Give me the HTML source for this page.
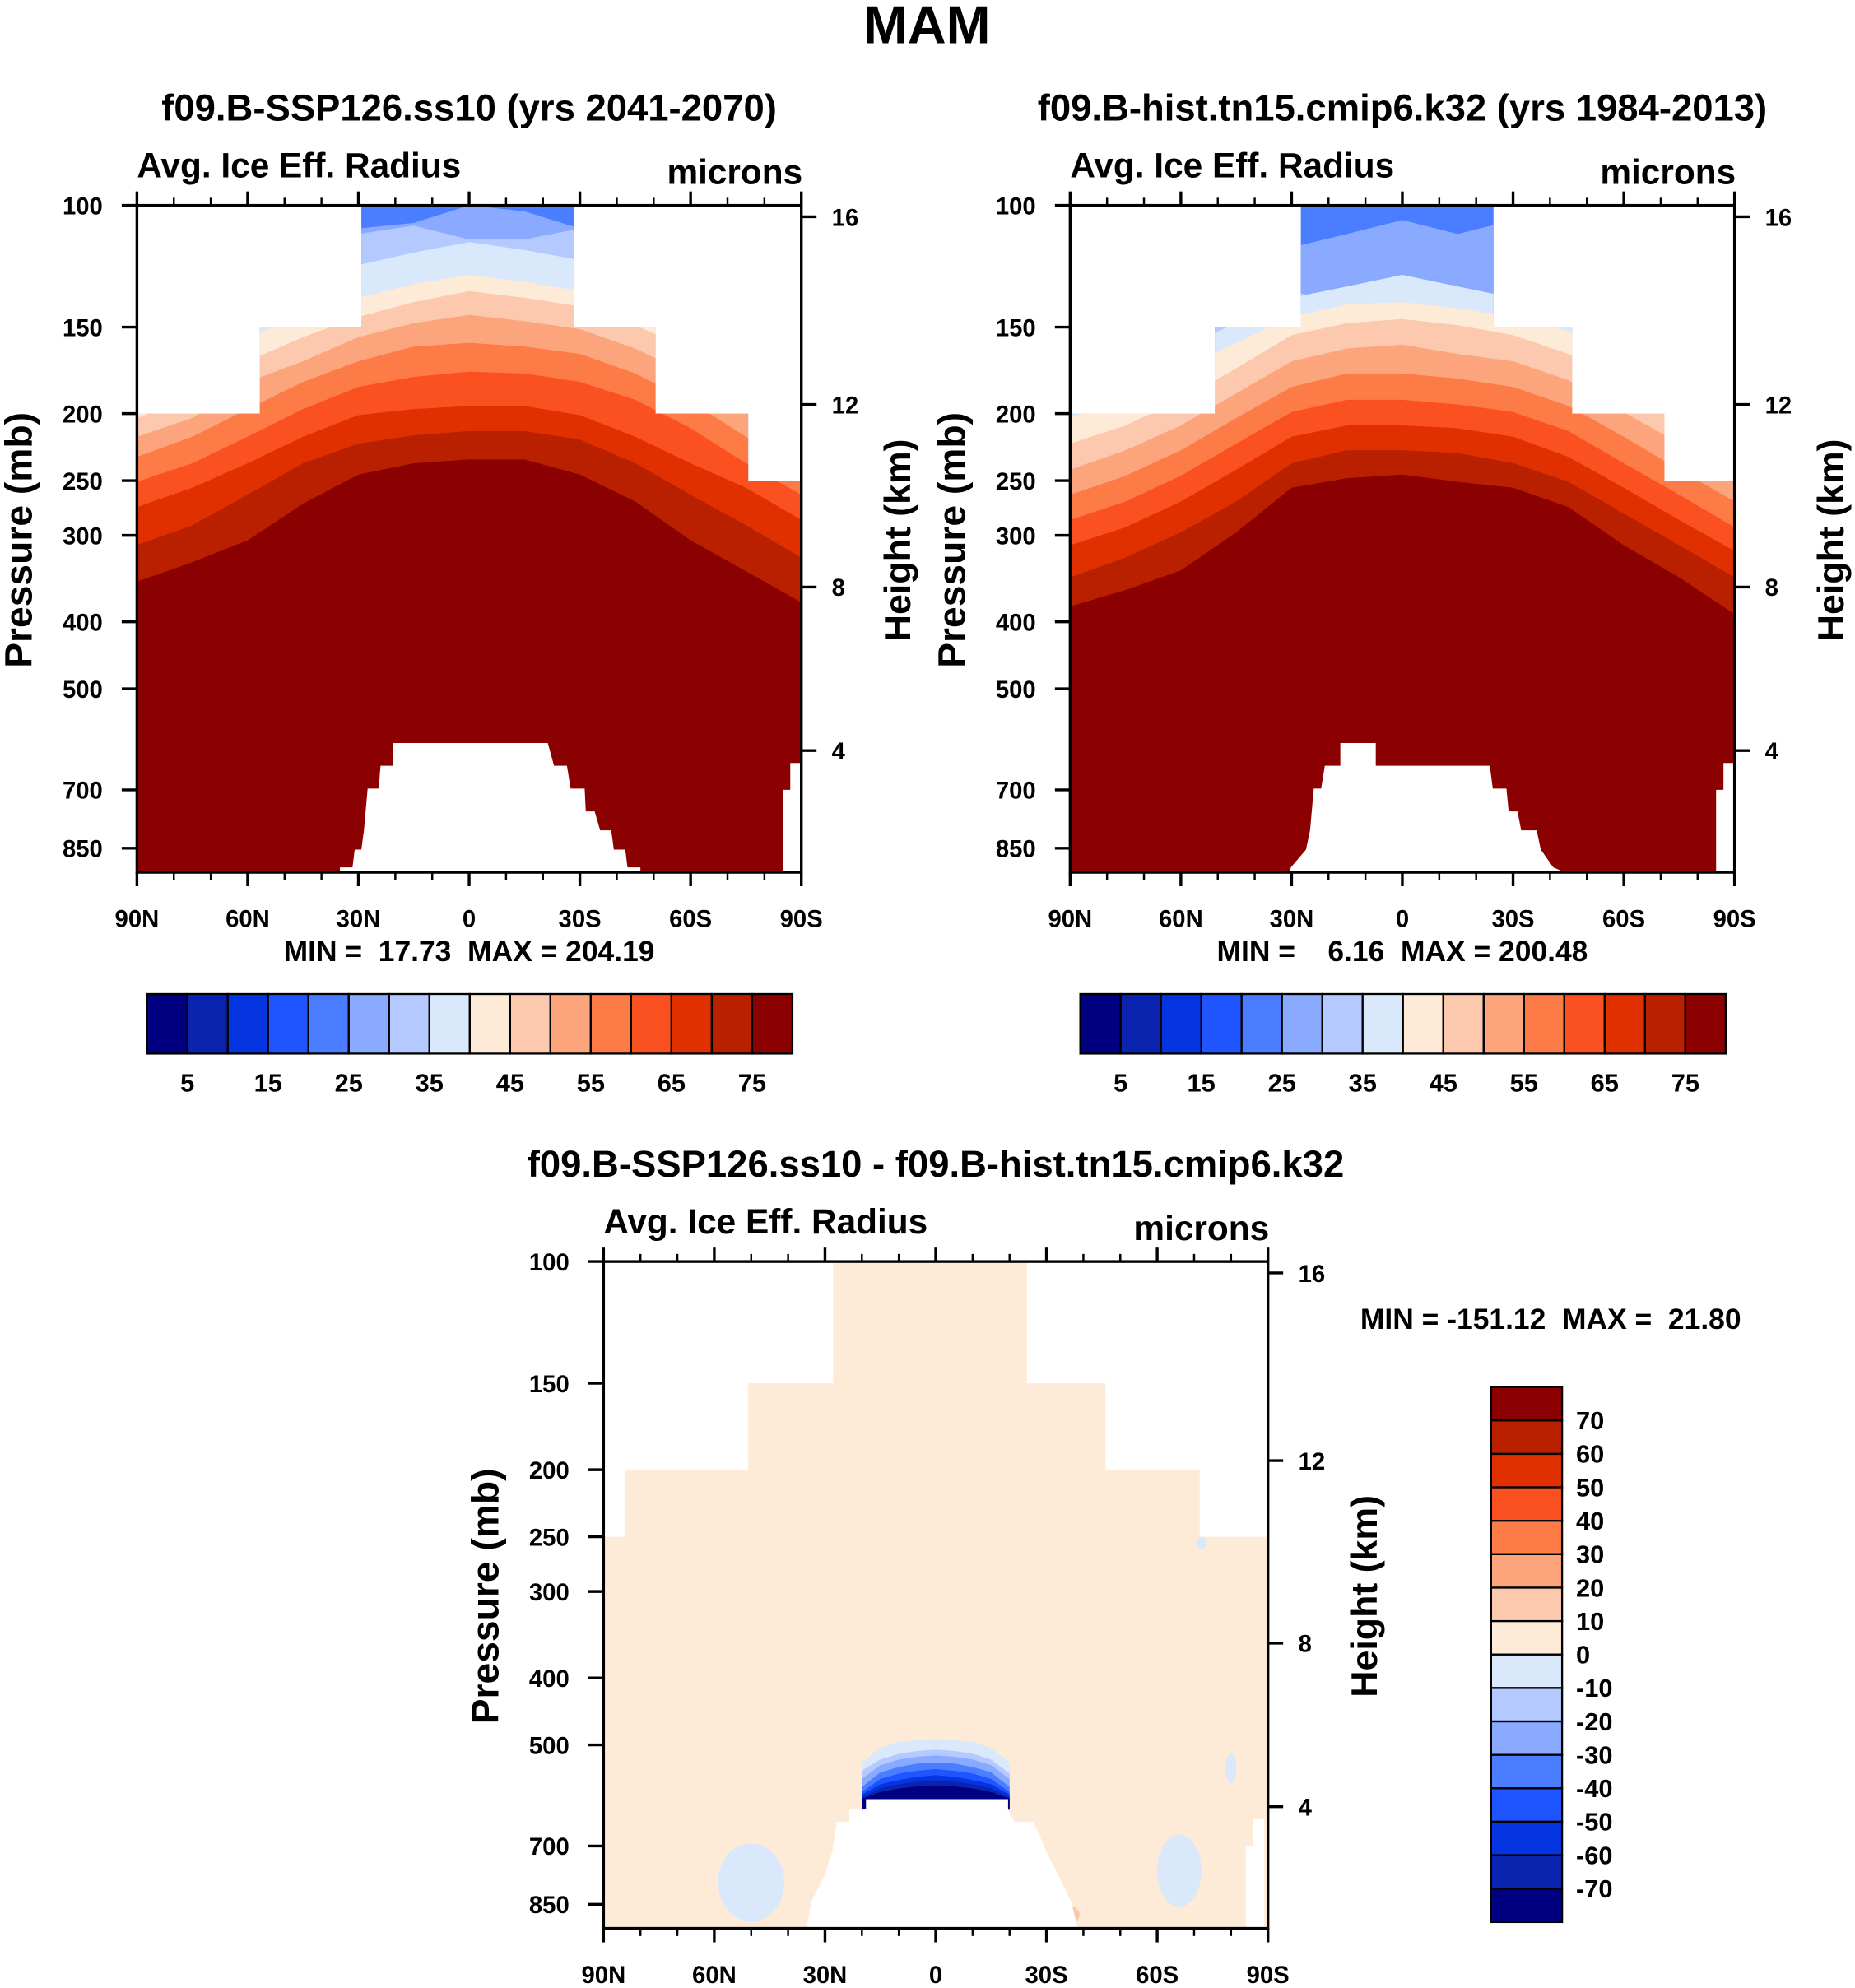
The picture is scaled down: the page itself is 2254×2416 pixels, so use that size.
<!DOCTYPE html>
<html><head><meta charset="utf-8"><title>MAM Avg. Ice Eff. Radius</title>
<style>
html,body{margin:0;padding:0;background:#fff;}
svg{display:block;}
text{font-family:"Liberation Sans",Arial,sans-serif;font-weight:bold;fill:#000;white-space:pre;}
</style></head>
<body>
<svg id="fig" xmlns="http://www.w3.org/2000/svg" width="2254" height="2416" viewBox="0 0 1463 1568" preserveAspectRatio="none">
<text x="731" y="34" font-size="42" text-anchor="middle">MAM</text>
</svg>
<script>
// ---------- data ----------
const lats = [90,75,60,45,30,15,0,-15,-30,-45,-60,-75,-90];
const levels = [25,30,35,40,45,50,55,60,65,70,75];
// Left panel (SSP126) boundary pressures (mb) for each level
const left25 = [100,100,100,103,108,106,100,102,108,104,100,100,100];
const left30 = [150,140,130,120,110,107,112,112,108,113,130,140,150];
const left35 = [180,165,150,136,122,117,113,116,120,125,140,158,180];
const left40 = [190,172,155,145,136,130,126,129,133,140,152,170,195];
const left45 = [203,189,168,155,145,138,133,136,140,149,162,183,210];
const left50 = [216,203,180,168,155,148,144,147,151,161,176,198,226];
const left55 = [231,216,197,180,168,160,158,160,164,175,192,216,245];
const left60 = [251,236,216,197,183,177,174,175,180,191,210,236,262];
const left65 = [273,256,236,216,201,197,195,195,201,216,236,256,285];
const left70 = [310,290,262,236,221,215,212,212,218,236,262,290,323];
const left75 = [350,328,305,270,245,236,233,233,245,268,305,338,375];
// Right panel (hist) boundaries
const right25 = [100,100,100,105,115,110,105,110,105,100,100,100,100];
const right30 = [139,133,128,125,133,139,133,136,133,131,128,133,139];
const right35 = [195,179,161,148,136,131,126,131,136,142,154,168,187];
const right40 = [203,188,172,158,145,139,138,141,145,152,168,187,203];
const right45 = [221,208,191,172,154,148,146,149,154,164,183,203,226];
const right50 = [241,226,208,187,168,161,159,164,168,179,199,221,246];
const right55 = [262,246,226,203,183,175,175,178,183,195,216,241,268];
const right60 = [285,268,246,221,199,191,191,194,199,212,236,262,292];
const right65 = [310,292,268,241,216,208,208,210,216,231,256,285,316];
const right70 = [345,323,297,268,236,226,226,228,236,251,279,310,345];
const right75 = [380,360,337,297,256,248,245,251,256,273,310,345,390];
// Data-domain top masks (step edges in lat, top pressure per step)
const leftMaskLat = [90,56.7,29.2,-28.5,-50.5,-75.6,-90];
const leftMaskP = [200,150,100,150,200,250];
const rightMaskLat = [90,50.8,27.5,-24.7,-46,-71,-90];
const rightMaskP = [200,150,100,150,200,250];
const diffMaskLat = [90,84.2,50.8,27.8,-24.7,-46,-71.5,-90];
const diffMaskP = [250,200,150,100,150,200,250];
// Topography (surface) outlines
const leftTopoLat = [35,35,31.6,31,29.2,28.5,27.5,24.5,24,20.6,20.6,-21.3,-23,-26.5,-27.5,-31.3,-31.6,-34,-35.5,-38.5,-39.2,-42.3,-42.9,-46.4,-46.4];
const leftTopoP = [922,906,906,854,854,801,697,697,646,646,599,599,646,646,697,697,752,752,801,801,854,854,906,906,922];
const rightTopoLat = [30.6,30.2,26.1,25,24,22,21,16.8,16.8,7.2,7.2,-23.7,-24.5,-28.2,-28.8,-31.2,-32.2,-36.4,-37.5,-40.9,-44.3];
const rightTopoP = [922,906,854,801,697,697,646,646,599,599,646,646,697,697,752,752,801,801,854,906,922];
const diffTopoLat = [35,33.7,30.2,28,26.8,23.4,23.4,18.9,18.9,-19.6,-19.6,-21.3,-26.5,-29.9,-33.3,-36.7,-38.5];
const diffTopoP = [922,843,775,712,646,646,620,620,599,599,620,646,646,712,775,843,922];
const edgeTopoLat = [-85,-85,-87,-87,-90,-90];
const edgeTopoP = [922,700,700,640,640,922];
// Difference panel negative pocket above plateau
const dLats = [20,15,10,5,0,-5,-10,-15,-20];
const dLevels = [0,-10,-20,-30,-40,-50,-60,-70];
const d0 = [530,505,495,492,490,492,495,505,530];
const dm10 = [545,525,515,510,508,510,515,525,550];
const dm20 = [560,535,525,520,518,520,525,535,560];
const dm30 = [575,548,538,532,530,532,538,548,575];
const dm40 = [585,560,550,545,542,545,550,560,585];
const dm50 = [590,570,562,556,553,556,562,570,590];
const dm60 = [595,578,570,565,562,565,570,578,595];
const dm70 = [598,585,578,574,572,574,578,585,598];
// Diff patches (lat, pressure center, half-width deg, half-height log)
const patchLat = [50,-66,-80,-72,-36];
const patchP = [790,760,540,255,880];
const patchW = [9,6,1.5,1.5,3];
const patchH = [0.13,0.12,0.05,0.02,0.03];
const patchLevel = [-5,-5,-5,-5,15];
// Tick/label arrays
const pTicks = [100,150,200,250,300,400,500,700,850];
const kmTicks = [16,12,8,4];
const kmY = [9,157,301,430]; // offsets below panel top
const latTicks = [90,60,30,0,-30,-60,-90];
const latLabels = ["90N","60N","30N","0","30S","60S","90S"];
const cbLabelsTop = [5,15,25,35,45,55,65,75];
const cbLabelsDiff = [70,60,50,40,30,20,10,0,-10,-20,-30,-40,-50,-60,-70];
const colors = ['#000080','#0a24b0','#0535e0','#1f55ff','#4a7dff','#8aaaff','#b4c9ff','#d9e8fb','#fdebd7','#fcc9ae','#fca57c','#fc7b47','#fb5121','#e03000','#b82000','#8b0000'];

// ---------- drawing ----------
const NS='http://www.w3.org/2000/svg';
const svg=document.getElementById('fig');
function el(tag,attrs,parent){const e=document.createElementNS(NS,tag);for(const k in attrs)e.setAttribute(k,attrs[k]);(parent||svg).appendChild(e);return e;}
const W=524,H=526,K=236.9;
function mkX(x0){return lat=>x0+(90-lat)/180*W;}
function mkY(y0){return p=>y0+K*Math.log(p/100);}
let clipId=0;
function panel(x0,y0,bounds,lvls,baseIdx,maskLat,maskP,name){
  const X=mkX(x0),Y=mkY(y0);
  const g=el('g',{});
  
  
  const cid='clip'+(clipId++);
  const cp=el('clipPath',{id:cid},g);
  let pts=[];
  for(let i=0;i<maskP.length;i++){pts.push(X(maskLat[i])+','+Y(maskP[i]));pts.push(X(maskLat[i+1])+','+Y(maskP[i]));}
  pts.push(X(-90)+','+(y0+H));pts.push(X(90)+','+(y0+H));
  el('polygon',{points:pts.join(' ')},cp);
  const fg=el('g',{'clip-path':'url(#'+cid+')'},g);
  const base=el('rect',{x:x0,y:y0,width:W,height:H,fill:colors[baseIdx]},fg);
  
  
  bounds.forEach((b,i)=>{
    let q=lats.map((l,j)=>X(l)+','+Y(b[j]));
    q.push(X(-90)+','+(y0+H));q.push(X(90)+','+(y0+H));
    const p=el('polygon',{points:q.join(' '),fill:colors[lvls[i]/5]},fg);
    
    
  });
  return {g,fg,X,Y};
}
function topo(P,latA,pA){
  const q=latA.map((l,i)=>P.X(l)+','+P.Y(Math.min(pA[i],922)));
  const t=el('polygon',{points:q.join(' '),fill:'#fff'},P.g);
  
  
}
function axes(P,x0,y0,title,minmax){
  const g=P.g;
  const fr=el('rect',{x:x0,y:y0,width:W,height:H,fill:'none',stroke:'#000','stroke-width':2.2},g);
  
  
  for(let l=90;l>=-90;l-=10){
    const major=(l%30===0);
    const x=P.X(l);
    el('line',{x1:x,y1:y0+H,x2:x,y2:y0+H+(major?11:6),stroke:'#000','stroke-width':major?2.2:1.6},g);
    el('line',{x1:x,y1:y0,x2:x,y2:y0-(major?11:6),stroke:'#000','stroke-width':major?2.2:1.6},g);
  }
  latTicks.forEach((l,i)=>{
    const t=el('text',{x:P.X(l),y:y0+H+43,'font-size':19,'text-anchor':'middle'},g);
    t.textContent=latLabels[i];
    
    
  });
  pTicks.forEach(p=>{
    const y=P.Y(p);
    el('line',{x1:x0-12,y1:y,x2:x0,y2:y,stroke:'#000','stroke-width':2.2},g);
    const t=el('text',{x:x0-27,y:y+7,'font-size':19,'text-anchor':'end'},g);
    t.textContent=p;
    
    
  });
  kmTicks.forEach((k,i)=>{
    const y=y0+kmY[i];
    el('line',{x1:x0+W,y1:y,x2:x0+W+12,y2:y,stroke:'#000','stroke-width':2.2},g);
    const t=el('text',{x:x0+W+24,y:y+7,'font-size':19},g);
    t.textContent=k;
    
    
  });
  let t=el('text',{x:x0,y:y0-22,'font-size':27.5},g);t.textContent='Avg. Ice Eff. Radius';
  
  t=el('text',{x:x0+W+1,y:y0-17,'font-size':27.5,'text-anchor':'end'},g);t.textContent='microns';
  
  t=el('text',{x:x0+W/2,y:y0-67,'font-size':29.5,'text-anchor':'middle'},g);t.textContent=title;
  
  t=el('text',{x:0,y:0,'font-size':30,'text-anchor':'middle',transform:'translate('+(x0-83)+','+(y0+264)+') rotate(-90)'},g);t.textContent='Pressure (mb)';
  
  t=el('text',{x:0,y:0,'font-size':29,'text-anchor':'middle',transform:'translate('+(x0+W+86)+','+(y0+264)+') rotate(-90)'},g);t.textContent='Height (km)';
  
  if(minmax){t=el('text',{x:x0+W/2,y:y0+H+70,'font-size':23,'text-anchor':'middle'},g);t.textContent=minmax;
  }
}
function hbar(x0,y0,name){
  const g=el('g',{});
  
  
  const bw=(625-116)/16;
  colors.forEach((c,i)=>{
    const r=el('rect',{x:x0+i*bw,y:y0,width:bw,height:47,fill:c,stroke:'#000','stroke-width':1.5},g);
    
    
  });
  cbLabelsTop.forEach((v,i)=>{
    const t=el('text',{x:x0+(2*i+1)*bw,y:y0+77,'font-size':20,'text-anchor':'middle'},g);
    t.textContent=v;
    
    
  });
}
// left panel
const L=panel(108,162,[left25,left30,left35,left40,left45,left50,left55,left60,left65,left70,left75],levels,4,leftMaskLat,leftMaskP,'left-panel');
topo(L,leftTopoLat,leftTopoP);topo(L,edgeTopoLat,edgeTopoP);
axes(L,108,162,'f09.B-SSP126.ss10 (yrs 2041-2070)','MIN =  17.73  MAX = 204.19');
hbar(116,784,'left-colorbar');
// right panel
const R=panel(844,162,[right25,right30,right35,right40,right45,right50,right55,right60,right65,right70,right75],levels,4,rightMaskLat,rightMaskP,'right-panel');
topo(R,rightTopoLat,rightTopoP);topo(R,edgeTopoLat,edgeTopoP);
axes(R,844,162,'f09.B-hist.tn15.cmip6.k32 (yrs 1984-2013)','MIN =    6.16  MAX = 200.48');
hbar(852,784,'right-colorbar');
// diff panel
const D=panel(476,995,[],[],8,diffMaskLat,diffMaskP,'difference-panel');
const dIdx=v=>v>=0?8+Math.floor(v/10):7+Math.ceil(v/10);
patchLat.forEach((l,i)=>{
  const cx=D.X(l),cy=D.Y(patchP[i]);
  const e=el('ellipse',{cx:cx,cy:cy,rx:patchW[i]/180*W,ry:patchH[i]*K,fill:colors[dIdx(patchLevel[i])]},D.fg);
  
  
});
[d0,dm10,dm20,dm30,dm40,dm50,dm60,dm70].forEach((b,i)=>{
  let q=dLats.map((l,j)=>D.X(l)+','+D.Y(b[j]));
  q.push(D.X(-20)+','+D.Y(620));q.push(D.X(20)+','+D.Y(620));
  const p=el('polygon',{points:q.join(' '),fill:colors[7-i]},D.fg);
  
  
});
topo(D,diffTopoLat,diffTopoP);topo(D,edgeTopoLat.map(v=>v+1),edgeTopoP);
axes(D,476,995,'f09.B-SSP126.ss10 - f09.B-hist.tn15.cmip6.k32',null);
let mt=el('text',{x:1223,y:1048,'font-size':23,'text-anchor':'middle'});
mt.textContent='MIN = -151.12  MAX =  21.80';


// vertical colorbar
const vg=el('g',{});


const bh=(1516-1094)/16;
colors.slice().reverse().forEach((c,i)=>{
  const r=el('rect',{x:1176,y:1094+i*bh,width:56,height:bh,fill:c,stroke:'#000','stroke-width':1.5},vg);
  
  
});
cbLabelsDiff.forEach((v,i)=>{
  const t=el('text',{x:1243,y:1094+(i+1)*bh+7,'font-size':20},vg);
  t.textContent=v;
  
  
});
</script>
</body></html>
